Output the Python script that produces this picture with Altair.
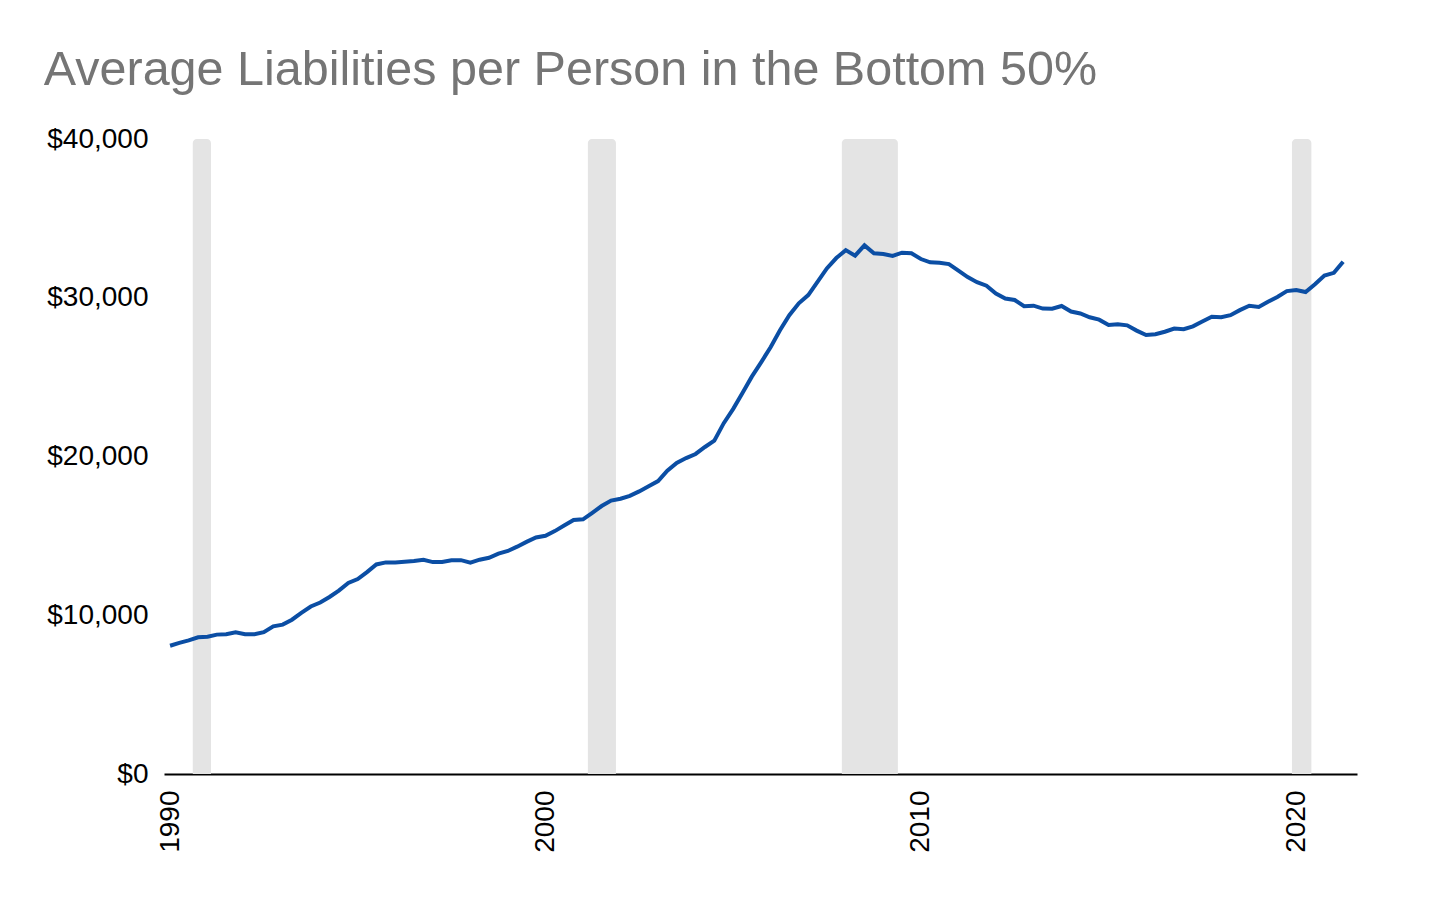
import altair as alt
import pandas as pd

# Quarterly average liabilities per person, bottom 50% (1990 Q1 - 2021 Q2)
first_quarter = "1990-01-01"
liabilities = [
    8080, 8260, 8420, 8610, 8650, 8780, 8800, 8920, 8800, 8800,
    8930, 9300, 9410, 9720, 10150, 10550, 10800, 11150, 11550, 12030,
    12280, 12720, 13200, 13330, 13330, 13370, 13420, 13500, 13350, 13350,
    13460, 13470, 13310, 13500, 13620, 13880, 14050, 14320, 14620, 14900,
    15010, 15300, 15650, 16000, 16040, 16450, 16880, 17220, 17340, 17520,
    17800, 18120, 18450, 19100, 19600, 19900, 20160, 20600, 21000, 22100,
    23000, 24000, 25030, 25950, 26900, 27950, 28900, 29650, 30170, 31000,
    31850, 32500, 33000, 32650, 33300, 32800, 32760, 32630, 32840, 32800,
    32440, 32230, 32210, 32120, 31710, 31300, 30980, 30760, 30270, 29950,
    29860, 29470, 29500, 29320, 29310, 29480, 29130, 29010, 28770, 28620,
    28280, 28330, 28260, 27930, 27650, 27700, 27860, 28060, 28020, 28200,
    28500, 28800, 28770, 28900, 29220, 29500, 29420, 29750, 30050, 30420,
    30490, 30360, 30850, 31400, 31570, 32270,
]

# Recession periods (shaded)
rec_start = ["1990-08-10", "2001-02-17", "2007-11-24", "2019-11-20"]
rec_end = ["1991-02-03", "2001-11-17", "2009-05-22", "2020-05-27"]

y_ticks = [0, 10000, 20000, 30000, 40000]
x_ticks = ["1990-01-01", "2000-01-01", "2010-01-01", "2020-01-01"]

df = pd.DataFrame({
    "date": pd.date_range(start=first_quarter, periods=len(liabilities), freq="QS"),
    "value": liabilities,
})
rec = pd.DataFrame({"start": pd.to_datetime(rec_start), "end": pd.to_datetime(rec_end)})

x_scale = alt.Scale(domain=["1989-11-03", "2021-08-14"])
y_scale = alt.Scale(domain=[0, 40000])

bands = alt.Chart(rec).mark_rect(
    color="#e4e4e4", cornerRadiusTopLeft=4, cornerRadiusTopRight=4
).encode(
    x=alt.X("start:T", scale=x_scale),
    x2="end:T",
    y=alt.Y(datum=40000, scale=y_scale),
    y2=alt.Y2(datum=0),
)

line = alt.Chart(df).mark_line(color="#0b4ea4", strokeWidth=4).encode(
    x=alt.X(
        "date:T",
        scale=x_scale,
        title=None,
        axis=alt.Axis(
            values=x_ticks,
            format="%Y",
            labelAngle=-90,
            labelFontSize=28,
            labelColor="#000000",
            labelPadding=16,
            ticks=False,
            grid=False,
            domainColor="#000000",
            domainWidth=2,
        ),
    ),
    y=alt.Y(
        "value:Q",
        scale=y_scale,
        title=None,
        axis=alt.Axis(
            values=y_ticks,
            format="$,.0f",
            labelFontSize=28,
            labelColor="#000000",
            labelPadding=16,
            ticks=False,
            grid=False,
            domain=False,
        ),
    ),
)

chart = alt.layer(bands, line).properties(
    width=1193,
    height=635,
    autosize=alt.AutoSizeParams(type="none"),
    padding={"left": 156, "top": 131, "right": 60, "bottom": 100},
    title=alt.TitleParams(
        "Average Liabilities per Person in the Bottom 50%",
        anchor="start",
        frame="bounds",
        fontSize=48.5,
        fontWeight="normal",
        color="#757575",
        baseline="alphabetic",
        offset=41,
        dx=-3,
        dy=49,
    ),
).configure(
    font="Liberation Sans"
).configure_view(
    strokeWidth=0
)

chart.save("out.html", embed_options={"renderer": "svg", "actions": False})
